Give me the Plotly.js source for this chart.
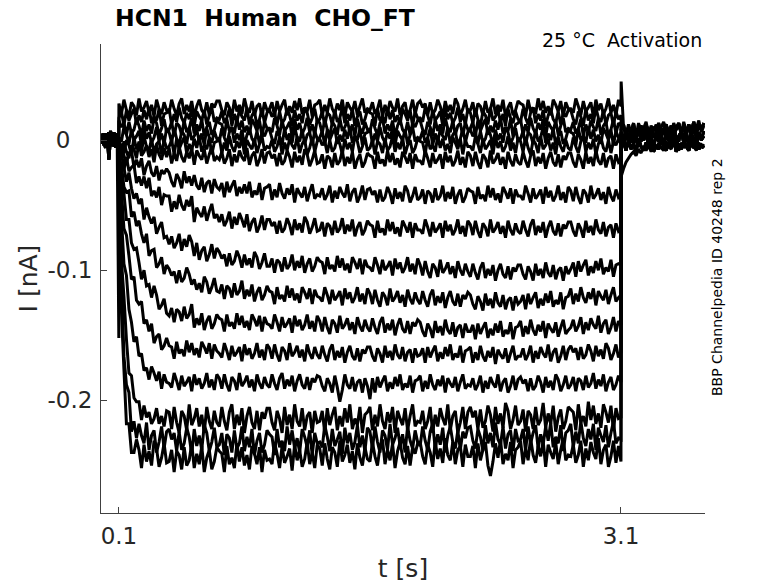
<!DOCTYPE html>
<html>
<head>
<meta charset="utf-8">
<script src="https://cdn.plot.ly/plotly-3.0.1.min.js"></script>
<style>html,body{margin:0;padding:0;background:#fff}#chart{width:778px;height:583px}</style>
</head>
<body>
<div id="chart"></div>
<script>
// ---- Data: currents in pA ----
// holding segment (t = 0 .. 0.1 s)
const preT = [0, 0.01, 0.02, 0.03, 0.04, 0.05, 0.06, 0.07, 0.08, 0.09, 0.0995];
const preA = [2,-4,5,-3,6,-2,4,-5,3,-1,2];
const preB = [-3,5,-2,4,-15,3,-4,6,-2,4,-1];
const preC = [5,-1,-6,3,-3,7,-2,2,-6,5,0];
const preD = [-1,3,0,-5,2,-4,6,-3,5,-4,-2];
const preSpike = [1,-3,4,-2,3,-5,2,-1,4,-3,-152];

// test step segment sampling (t = 0.1 .. 3.1 s)
const stepStart = 0.1, stepDt = 0.015, stepCount = 201;
// tail segment sampling (t = 3.1 .. 3.6 s)
const tailFirst = 3.101, tailStart = 3.115, tailDt = 0.015, tailCount = 33;

const tailA = [8,12,3,10,5,13,2,9,11,4, 12,6,1,10,7,13,3,8,12,5, 11,2,9,13,6,10,4,12,7,14, 5,11,8,13];
const tailB = [2,-4,5,-1,6,-3,3,-5,4,0, 7,-2,1,-6,5,-1,3,-4,6,0, -3,4,-5,2,7,-2,3,-4,5,1, -3,6,0,3];
const tailC = [-6,-1,-8,0,-7,-3,-9,1,-5,-8, -2,-6,0,-9,-4,-7,1,-5,-8,-2, -6,0,-9,-3,-7,-1,-5,-8,-2,-6, 1,-7,-4,-6];
const tailD = [6,0,8,2,-2,7,1,9,-1,5, 3,-3,8,2,6,-1,4,9,0,5, -2,7,3,-1,8,1,6,-2,4,9, 2,5,0,7];
const tailUp = [45,10,4,12,6,11,3,13,5,9, 14,4,11,7,12,3,10,14,6,9, 4,13,8,11,5,14,7,10,3,12, 9,15,6,11];
const tailSlow = [-28,-22,-17,-14,-11,-9,-12,-7,-10,-5, -8,-4,-9,-3,-7,-2,-6,-8,-1,-5, -7,0,-4,-8,-2,-6,-3,-7,1,-5, -8,-2,-6,-3];

const p1 = [
28,20,31,23,18,29,26,19,32,22,25,30,21,27,18,31,24,20,29,23,
21,31,24,19,28,32,20,27,22,30,18,26,31,23,20,29,19,28,25,30,
30,23,19,29,25,18,31,22,27,20,32,24,21,30,19,26,28,18,29,23,
24,29,18,30,22,27,31,19,26,21,30,23,32,20,25,22,31,18,27,28,
31,19,27,21,32,24,20,28,23,31,18,29,25,22,30,19,26,32,21,24,
23,29,20,24,31,18,27,21,30,25,22,32,19,26,29,18,23,31,20,28,
30,25,28,19,29,20,23,31,26,18,30,22,27,20,32,28,19,24,31,21,
23,29,18,28,26,19,30,21,24,32,20,27,22,31,18,25,29,19,23,30,
28,27,18,31,22,25,20,32,23,30,21,26,19,31,27,22,30,18,29,24,
24,21,32,26,19,30,22,25,29,18,31,23,28,20,24,32,21,27,19,31,
26];
const p2 = [
17,22,11,23,15,20,24,12,19,14,23,16,25,13,18,15,24,11,20,21,
24,12,20,14,25,17,13,21,16,24,11,22,18,15,23,12,19,25,14,17,
16,22,13,17,24,11,20,14,23,18,15,25,12,19,22,11,16,24,13,21,
23,18,21,12,22,13,16,24,19,11,23,15,20,13,25,21,12,17,24,14,
16,22,11,21,19,12,23,14,17,25,13,20,15,24,11,18,22,12,16,23,
21,20,11,24,15,18,13,25,16,23,14,19,12,24,20,15,23,11,22,17,
17,14,25,19,12,23,15,18,22,11,24,16,21,13,17,25,14,20,12,24,
21,13,24,16,11,22,19,12,25,15,18,23,14,20,11,24,17,13,22,16,
14,24,17,12,21,25,13,20,15,23,11,19,24,16,13,22,12,21,18,23,
23,16,12,22,18,11,24,15,20,13,25,17,14,23,12,19,21,11,22,16,
19];
const p3 = [
15,10,13,4,14,5,8,16,11,3,15,7,12,5,17,13,4,9,16,6,
8,14,3,13,11,4,15,6,9,17,5,12,7,16,3,10,14,4,8,15,
13,12,3,16,7,10,5,17,8,15,6,11,4,16,12,7,15,3,14,9,
9,6,17,11,4,15,7,10,14,3,16,8,13,5,9,17,6,12,4,16,
13,5,16,8,3,14,11,4,17,7,10,15,6,12,3,16,9,5,14,8,
6,16,9,4,13,17,5,12,7,15,3,11,16,8,5,14,4,13,10,15,
15,8,4,14,10,3,16,7,12,5,17,9,6,15,4,11,13,3,14,8,
9,14,3,15,7,12,16,4,11,6,15,8,17,5,10,7,16,3,12,13,
16,4,12,6,17,9,5,13,8,16,3,14,10,7,15,4,11,17,6,9,
8,14,5,9,16,3,12,6,15,10,7,17,4,11,14,3,8,16,5,13,
11];
const p4 = [
2,-1,10,4,-3,8,0,3,7,-4,9,1,6,-2,2,10,-1,5,-3,9,
6,-2,9,1,-4,7,4,-3,10,0,3,8,-1,5,-4,9,2,-2,7,1,
-1,9,2,-3,6,10,-2,5,0,8,-4,4,9,1,-2,7,-3,6,3,8,
8,1,-3,7,3,-4,9,0,5,-2,10,2,-1,8,-3,4,6,-4,7,1,
2,7,-4,8,0,5,9,-3,4,-1,8,1,10,-2,3,0,9,-4,5,6,
9,-3,5,-1,10,2,-2,6,1,9,-4,7,3,0,8,-3,4,10,-1,2,
1,7,-2,2,9,-4,5,-1,8,3,0,10,-3,4,7,-4,1,9,-2,6,
8,3,6,-3,7,-2,1,9,4,-4,8,0,5,-2,10,6,-3,2,9,-1,
1,7,-4,6,4,-3,8,-1,2,10,-2,5,0,9,-4,3,7,-3,1,8,
6,5,-4,9,0,3,-2,10,1,8,-1,4,-3,9,5,0,8,-4,7,2,
4];
const p5 = [
1,-6,-10,0,-4,-11,2,-7,-2,-9,3,-5,-8,1,-10,-3,-1,-11,0,-6,
-5,0,-11,1,-7,-2,2,-10,-3,-8,1,-6,3,-9,-4,-7,2,-11,-2,-1,
2,-10,-2,-8,3,-5,-9,-1,-6,2,-11,0,-4,-7,1,-10,-3,3,-8,-5,
-6,0,-9,-5,2,-11,-2,-8,1,-4,-7,3,-10,-3,0,-11,-6,2,-9,-1,
1,-4,-1,-10,0,-9,-6,2,-3,-11,1,-7,-2,-9,3,-1,-10,-5,2,-8,
-6,0,-11,-1,-3,-10,1,-8,-5,3,-9,-2,-7,2,-11,-4,0,-10,-6,1,
-1,-2,-11,2,-7,-4,-9,3,-6,1,-8,-3,-10,2,-2,-7,1,-11,0,-5,
-5,-8,3,-3,-10,1,-7,-4,0,-11,2,-6,-1,-9,-5,3,-8,-2,-10,2,
-1,-9,2,-6,-11,0,-3,-10,3,-7,-4,1,-8,-2,-11,2,-5,-9,0,-6,
-8,2,-5,-10,-1,3,-9,-2,-7,1,-11,-3,2,-6,-9,0,-10,-1,-4,1,
-3];
const a1 = [
-3,-11,-1,-9,-14,-4,-7,-14,-1,-12,-9,-4,-13,-7,-17,-4,-11,-15,-6,-13,
-6,-18,-10,-16,-5,-13,-17,-9,-14,-6,-19,-8,-12,-15,-7,-18,-11,-5,-16,-13,
-15,-9,-18,-14,-7,-20,-11,-17,-8,-13,-16,-6,-19,-12,-9,-20,-15,-7,-18,-10,
-9,-14,-11,-20,-10,-19,-16,-8,-13,-21,-9,-17,-12,-19,-7,-11,-20,-15,-8,-18,
-17,-11,-22,-12,-14,-21,-10,-19,-16,-8,-20,-13,-18,-9,-22,-15,-11,-21,-17,-10,
-12,-13,-22,-9,-18,-15,-20,-8,-17,-10,-19,-14,-21,-9,-13,-18,-10,-22,-11,-16,
-16,-19,-8,-14,-21,-10,-18,-15,-11,-22,-9,-17,-12,-20,-16,-8,-19,-13,-21,-9,
-12,-20,-9,-17,-22,-11,-14,-21,-8,-18,-15,-10,-19,-13,-22,-9,-16,-20,-11,-17,
-19,-9,-16,-21,-12,-8,-20,-13,-18,-10,-22,-14,-9,-17,-20,-11,-21,-12,-15,-10,
-10,-17,-21,-11,-15,-22,-9,-18,-13,-20,-8,-16,-19,-10,-21,-14,-12,-22,-11,-17,
-15];
const a2 = [
-12,-3,-12,-18,-10,-8,-21,-15,-21,-14,-27,-20,-16,-25,-28,-20,-31,-23,-26,-22,
-25,-32,-36,-26,-30,-37,-24,-33,-28,-35,-27,-35,-38,-29,-40,-33,-31,-41,-30,-36,
-38,-33,-44,-32,-40,-35,-31,-43,-36,-41,-34,-41,-32,-44,-39,-42,-33,-46,-37,-36,
-34,-46,-38,-44,-33,-41,-45,-37,-42,-34,-48,-37,-41,-44,-36,-47,-40,-34,-45,-42,
-43,-37,-46,-42,-35,-48,-39,-45,-36,-41,-44,-34,-47,-40,-37,-48,-43,-35,-46,-38,
-37,-42,-39,-48,-38,-47,-44,-36,-41,-49,-37,-45,-40,-47,-35,-39,-48,-43,-36,-46,
-44,-38,-49,-39,-41,-48,-37,-46,-43,-35,-47,-40,-45,-36,-49,-42,-38,-48,-44,-37,
-39,-40,-49,-36,-45,-42,-47,-35,-44,-37,-46,-41,-48,-36,-40,-45,-37,-49,-38,-43,
-43,-46,-35,-41,-48,-37,-45,-42,-38,-49,-36,-44,-39,-47,-43,-35,-46,-40,-48,-36,
-39,-47,-36,-44,-49,-38,-41,-48,-35,-45,-42,-37,-46,-40,-49,-36,-43,-47,-38,-44,
-42];
const a3 = [
-11,-9,-23,-13,-24,-21,-19,-33,-28,-35,-28,-37,-29,-43,-39,-44,-36,-50,-42,-43,
-43,-55,-47,-53,-42,-50,-54,-46,-51,-43,-63,-52,-56,-59,-51,-62,-55,-49,-60,-57,
-63,-57,-66,-62,-55,-68,-59,-65,-56,-61,-67,-57,-70,-63,-60,-71,-66,-58,-69,-61,
-61,-66,-63,-72,-62,-71,-68,-60,-65,-73,-61,-69,-64,-71,-59,-63,-72,-67,-60,-70,
-69,-63,-74,-64,-66,-73,-62,-71,-68,-60,-72,-65,-70,-61,-74,-67,-63,-73,-69,-62,
-65,-66,-75,-62,-71,-68,-73,-61,-70,-63,-72,-67,-74,-62,-66,-71,-63,-75,-64,-69,
-69,-72,-61,-67,-74,-63,-71,-68,-64,-75,-62,-70,-65,-73,-69,-61,-72,-66,-74,-62,
-65,-73,-62,-70,-75,-64,-67,-74,-61,-71,-68,-63,-72,-66,-75,-62,-69,-73,-64,-70,
-72,-62,-69,-74,-65,-61,-73,-66,-71,-63,-75,-67,-62,-70,-73,-64,-74,-65,-68,-63,
-63,-70,-74,-64,-68,-75,-62,-71,-66,-73,-61,-69,-72,-63,-74,-67,-65,-75,-64,-70,
-68];
const a4 = [
-6,-24,-21,-32,-25,-37,-45,-41,-49,-45,-61,-52,-59,-64,-59,-72,-67,-63,-75,-74,
-80,-74,-83,-79,-72,-85,-76,-82,-73,-78,-89,-79,-92,-85,-82,-93,-88,-80,-91,-83,
-86,-91,-88,-97,-87,-96,-93,-85,-90,-98,-88,-96,-91,-98,-86,-90,-99,-94,-87,-97,
-97,-91,-102,-92,-94,-101,-90,-99,-96,-88,-100,-93,-98,-89,-102,-95,-91,-101,-97,-90,
-93,-94,-103,-90,-99,-96,-101,-89,-98,-91,-100,-95,-102,-90,-94,-99,-91,-103,-92,-97,
-98,-101,-90,-96,-103,-92,-100,-97,-93,-104,-91,-99,-94,-102,-98,-90,-101,-95,-103,-91,
-96,-104,-93,-101,-106,-95,-98,-105,-92,-102,-99,-94,-103,-97,-106,-93,-100,-104,-95,-101,
-105,-95,-102,-107,-98,-94,-106,-99,-104,-96,-108,-100,-95,-103,-106,-97,-107,-98,-101,-96,
-96,-103,-107,-97,-101,-108,-95,-104,-99,-106,-94,-102,-105,-96,-107,-100,-98,-108,-97,-103,
-99,-94,-105,-93,-101,-96,-92,-104,-97,-102,-93,-100,-91,-103,-98,-101,-92,-105,-96,-95,
-96];
const a5 = [
-16,-19,-36,-40,-39,-59,-55,-66,-62,-72,-79,-72,-89,-85,-84,-98,-95,-90,-103,-96,
-99,-104,-101,-110,-100,-109,-106,-98,-103,-111,-107,-115,-110,-117,-105,-109,-118,-113,-106,-116,
-117,-111,-122,-112,-114,-121,-110,-119,-116,-108,-122,-115,-120,-111,-124,-117,-113,-123,-119,-112,
-116,-117,-126,-113,-122,-119,-124,-112,-121,-114,-123,-118,-125,-113,-117,-122,-114,-126,-115,-120,
-121,-124,-113,-119,-126,-115,-123,-120,-116,-127,-114,-122,-117,-125,-121,-113,-124,-118,-126,-114,
-118,-126,-115,-123,-128,-117,-120,-127,-114,-124,-121,-116,-125,-119,-128,-115,-122,-126,-117,-123,
-126,-116,-123,-128,-119,-115,-127,-120,-125,-117,-129,-121,-116,-124,-127,-118,-128,-119,-122,-117,
-119,-126,-130,-120,-124,-131,-118,-127,-122,-129,-117,-125,-128,-119,-130,-123,-121,-131,-120,-126,
-124,-119,-130,-118,-126,-121,-117,-129,-122,-127,-118,-125,-116,-128,-123,-126,-117,-130,-121,-120,
-114,-126,-118,-124,-113,-121,-125,-117,-122,-114,-127,-116,-120,-123,-115,-126,-119,-113,-124,-121,
-119];
const a6 = [
-11,-31,-41,-61,-61,-79,-84,-83,-94,-107,-100,-112,-111,-121,-112,-119,-130,-127,-122,-133,
-135,-129,-140,-130,-132,-139,-128,-137,-134,-126,-144,-137,-142,-133,-146,-139,-135,-145,-141,-134,
-137,-138,-147,-134,-143,-140,-145,-133,-142,-135,-144,-139,-146,-134,-138,-143,-135,-147,-136,-141,
-142,-145,-134,-140,-147,-136,-144,-141,-137,-148,-135,-143,-138,-146,-142,-134,-145,-139,-147,-135,
-139,-147,-136,-144,-149,-138,-141,-148,-135,-145,-142,-137,-146,-140,-149,-136,-143,-147,-138,-144,
-147,-137,-144,-149,-140,-136,-148,-141,-146,-138,-150,-142,-137,-145,-148,-139,-149,-140,-143,-138,
-140,-147,-151,-141,-145,-152,-139,-148,-143,-150,-138,-146,-149,-140,-151,-144,-142,-152,-141,-147,
-147,-142,-153,-141,-149,-144,-140,-152,-145,-150,-141,-148,-139,-151,-146,-149,-140,-153,-144,-143,
-139,-151,-143,-149,-138,-146,-150,-142,-147,-139,-152,-141,-145,-148,-140,-151,-144,-138,-149,-146,
-144,-138,-147,-143,-136,-149,-140,-146,-137,-142,-145,-135,-148,-141,-138,-149,-144,-136,-147,-139,
-142];
const a7 = [
-22,-38,-68,-73,-89,-107,-105,-123,-126,-124,-141,-138,-147,-141,-156,-151,-149,-161,-158,-152,
-158,-159,-168,-155,-164,-161,-166,-154,-163,-156,-165,-160,-167,-155,-159,-164,-156,-168,-157,-162,
-164,-167,-156,-162,-169,-158,-166,-163,-159,-170,-157,-165,-160,-168,-164,-156,-167,-161,-169,-157,
-160,-168,-157,-165,-170,-159,-162,-169,-156,-166,-163,-158,-167,-161,-170,-157,-164,-168,-159,-165,
-168,-158,-165,-170,-161,-157,-169,-162,-167,-159,-171,-163,-158,-166,-169,-160,-170,-161,-164,-159,
-159,-166,-170,-160,-164,-171,-158,-167,-162,-169,-157,-165,-168,-159,-170,-163,-161,-171,-160,-166,
-165,-160,-171,-159,-167,-162,-158,-170,-163,-168,-159,-166,-157,-169,-164,-167,-158,-171,-162,-161,
-159,-171,-163,-169,-158,-166,-170,-162,-167,-159,-172,-161,-165,-168,-160,-171,-164,-158,-169,-166,
-166,-160,-169,-165,-158,-171,-162,-168,-159,-164,-167,-157,-170,-163,-160,-171,-166,-158,-169,-161,
-158,-163,-160,-169,-159,-168,-165,-157,-162,-170,-158,-166,-161,-168,-156,-160,-169,-164,-157,-167,
-163];
const a8 = [
-22,-59,-95,-104,-130,-140,-155,-151,-166,-164,-177,-175,-184,-174,-179,-185,-178,-191,-180,-186,
-187,-190,-179,-185,-192,-181,-189,-186,-182,-193,-180,-188,-183,-191,-187,-179,-190,-184,-192,-180,
-183,-191,-180,-188,-193,-182,-185,-192,-179,-189,-186,-181,-190,-184,-193,-180,-187,-191,-182,-188,
-190,-180,-187,-192,-183,-179,-191,-184,-189,-181,-193,-185,-180,-188,-191,-182,-192,-183,-186,-181,
-182,-189,-193,-183,-187,-194,-181,-190,-201,-192,-180,-188,-191,-182,-193,-186,-184,-194,-183,-189,
-199,-183,-194,-182,-190,-185,-181,-193,-186,-191,-182,-189,-180,-192,-187,-190,-181,-194,-185,-184,
-181,-193,-185,-191,-180,-188,-192,-184,-189,-181,-194,-183,-187,-190,-182,-193,-186,-180,-191,-188,
-189,-183,-192,-188,-181,-194,-185,-191,-182,-187,-190,-180,-193,-186,-183,-194,-189,-181,-192,-184,
-182,-187,-184,-193,-183,-192,-189,-181,-186,-194,-182,-190,-185,-192,-180,-184,-193,-188,-181,-191,
-188,-182,-193,-183,-185,-192,-181,-190,-187,-179,-191,-184,-189,-180,-193,-186,-182,-192,-188,-181,
-186];
const a9 = [
-31,-92,-120,-153,-179,-181,-198,-201,-201,-215,-204,-213,-209,-218,-214,-206,-218,-212,-220,-208,
-209,-222,-205,-217,-225,-208,-212,-223,-203,-219,-214,-206,-220,-211,-225,-205,-216,-222,-208,-217,
-220,-205,-216,-223,-209,-203,-222,-211,-219,-206,-225,-212,-205,-217,-222,-208,-223,-209,-214,-206,
-206,-217,-223,-208,-214,-225,-205,-219,-211,-222,-203,-216,-220,-206,-223,-212,-209,-225,-208,-217,
-216,-208,-225,-206,-219,-211,-205,-223,-212,-220,-206,-217,-203,-222,-214,-219,-205,-225,-211,-209,
-205,-223,-211,-220,-203,-216,-222,-209,-217,-205,-225,-208,-214,-219,-206,-223,-212,-203,-220,-216,
-217,-208,-222,-216,-205,-225,-211,-220,-206,-214,-219,-203,-223,-212,-208,-225,-217,-205,-222,-209,
-205,-213,-208,-222,-207,-221,-216,-204,-211,-224,-205,-218,-210,-221,-202,-208,-222,-215,-204,-219,
-216,-207,-224,-208,-211,-222,-205,-219,-215,-202,-221,-210,-218,-204,-224,-213,-207,-222,-216,-205,
-207,-209,-223,-203,-217,-212,-220,-201,-215,-204,-218,-210,-221,-203,-209,-217,-204,-223,-206,-214,
-213];
const a10 = [
-38,-105,-166,-188,-194,-224,-216,-229,-218,-227,-233,-217,-238,-227,-223,-240,-232,-220,-237,-224,
-222,-230,-225,-239,-224,-238,-233,-221,-228,-241,-222,-235,-227,-238,-219,-225,-239,-232,-221,-236,
-234,-225,-242,-226,-229,-240,-223,-237,-233,-220,-239,-228,-236,-222,-242,-231,-225,-240,-234,-223,
-226,-228,-242,-222,-236,-231,-239,-220,-234,-223,-237,-229,-240,-222,-228,-236,-223,-242,-225,-233,
-232,-236,-219,-228,-239,-222,-235,-230,-224,-241,-221,-233,-225,-238,-232,-219,-236,-227,-239,-221,
-224,-237,-220,-232,-240,-223,-227,-238,-218,-234,-229,-221,-235,-226,-240,-220,-231,-237,-223,-232,
-235,-220,-231,-238,-224,-218,-237,-226,-234,-221,-240,-227,-220,-232,-237,-223,-238,-224,-229,-221,
-220,-231,-237,-222,-228,-239,-219,-233,-225,-236,-217,-230,-234,-220,-237,-226,-223,-239,-222,-231,
-230,-222,-239,-220,-233,-225,-219,-237,-226,-234,-220,-231,-217,-236,-228,-233,-219,-239,-225,-223,
-218,-236,-224,-233,-216,-229,-235,-222,-230,-218,-238,-221,-227,-232,-219,-236,-225,-216,-233,-229,
-230];
const a11 = [
-32,-131,-176,-218,-218,-240,-240,-230,-238,-252,-234,-247,-239,-250,-231,-237,-251,-244,-233,-248,
-247,-238,-255,-239,-242,-253,-236,-250,-246,-233,-252,-241,-249,-235,-255,-244,-238,-253,-247,-236,
-239,-241,-255,-235,-249,-244,-252,-233,-247,-236,-250,-242,-253,-235,-241,-249,-236,-255,-238,-246,
-245,-249,-232,-241,-252,-235,-248,-243,-237,-254,-234,-246,-238,-251,-245,-232,-249,-240,-252,-234,
-237,-250,-233,-245,-253,-236,-240,-251,-231,-247,-242,-234,-248,-239,-253,-233,-244,-250,-236,-245,
-247,-232,-243,-250,-236,-230,-249,-238,-246,-233,-252,-239,-232,-244,-249,-235,-250,-236,-241,-233,
-232,-243,-249,-234,-240,-251,-231,-245,-237,-248,-229,-242,-246,-232,-249,-238,-235,-251,-234,-243,
-243,-235,-252,-233,-246,-238,-232,-250,-258,-247,-233,-244,-230,-249,-241,-246,-232,-252,-238,-236,
-231,-249,-237,-246,-229,-242,-248,-235,-243,-231,-251,-234,-240,-245,-232,-249,-238,-229,-246,-242,
-243,-234,-248,-242,-231,-251,-237,-246,-232,-240,-245,-229,-249,-238,-234,-251,-243,-231,-248,-235,
-247];

const xTickVals = [0.1, 3.1];
const xTickText = ['0.1', '3.1'];
const yTickVals = [0, -0.1, -0.2];
const yTickText = ['0\u00a0\u00a0\u00a0', '-0.1', '-0.2'];

// ---- Sampling grids ----
const stepT = [];
for (let k = 0; k < stepCount; k++) stepT.push(Math.round((stepStart + k * stepDt) * 1000) / 1000);
const tailT = [tailFirst];
for (let j = 0; j < tailCount; j++) tailT.push(Math.round((tailStart + j * tailDt) * 1000) / 1000);

// sweep = [step values, holding values, tail values]
const sweeps = [
  [p1, preA, tailUp], [p2, preB, tailA], [p3, preC, tailB], [p4, preD, tailD], [p5, preA, tailC],
  [a1, preB, tailB], [a2, preC, tailC], [a3, preD, tailA], [a4, preA, tailD], [a5, preB, tailB],
  [a6, preSpike, tailC], [a7, preC, tailA], [a8, preD, tailD], [a9, preA, tailB], [a10, preB, tailC],
  [a11, preC, tailSlow]
];

const traces = sweeps.map(([st, pr, tl]) => ({
  type: 'scatter', mode: 'lines',
  x: preT.concat(stepT.slice(0, st.length), tailT.slice(0, tl.length)),
  y: pr.concat(st.slice(0, stepT.length), tl.slice(0, tailT.length)).map(v => v / 1000),
  line: {color: '#000000', width: 3, simplify: false},
  hoverinfo: 'skip', showlegend: false
}));

const axisFont = {family: 'DejaVu Sans', size: 23, color: '#262626'};
const layout = {
  width: 778, height: 583,
  margin: {l: 101, r: 73, t: 44, b: 70, pad: 0},
  paper_bgcolor: '#ffffff', plot_bgcolor: '#ffffff',
  showlegend: false,
  title: {
    text: 'HCN1\u00a0 Human\u00a0 CHO_FT',
    font: {family: 'DejaVu Sans', size: 23.5, color: '#000000', weight: 'bold'},
    xref: 'container', x: 115 / 778, xanchor: 'left',
    yref: 'container', y: 1 - 18 / 583, yanchor: 'middle'
  },
  xaxis: {
    range: [-0.007, 3.602],
    tickmode: 'array', tickvals: xTickVals, ticktext: xTickText,
    ticks: 'inside', ticklen: 6, tickwidth: 1, tickcolor: '#404040',
    showline: true, linecolor: '#404040', linewidth: 1, mirror: false,
    showgrid: false, zeroline: false,
    tickfont: axisFont, ticklabelstandoff: 2,
    title: {text: 't [s]', font: {family: 'DejaVu Sans', size: 25, color: '#262626'}, standoff: 17}
  },
  yaxis: {
    range: [-0.2865, 0.0738],
    tickmode: 'array', tickvals: yTickVals, ticktext: yTickText,
    ticks: 'inside', ticklen: 6, tickwidth: 1, tickcolor: '#404040',
    showline: true, linecolor: '#404040', linewidth: 1, mirror: false,
    showgrid: false, zeroline: false,
    tickfont: axisFont, ticklabelstandoff: 3,
    title: {text: 'I [nA]', font: {family: 'DejaVu Sans', size: 25, color: '#262626'}, standoff: 2}
  },
  annotations: [
    {text: '25 °C\u00a0 Activation', xref: 'paper', yref: 'paper',
     x: (704 - 101) / 604, y: (513 - 40) / 469, xanchor: 'right', yanchor: 'middle',
     showarrow: false, font: {family: 'DejaVu Sans', size: 19, color: '#000000'}},
    {text: 'BBP Channelpedia ID 40248 rep 2', xref: 'paper', yref: 'paper',
     x: (717 - 101) / 604, y: (513 - 277) / 469, xanchor: 'center', yanchor: 'middle',
     textangle: -90, showarrow: false, font: {family: 'DejaVu Sans', size: 14, color: '#000000'}}
  ]
};

Plotly.newPlot('chart', traces, layout, {staticPlot: true, displayModeBar: false});
</script>
</body>
</html>
